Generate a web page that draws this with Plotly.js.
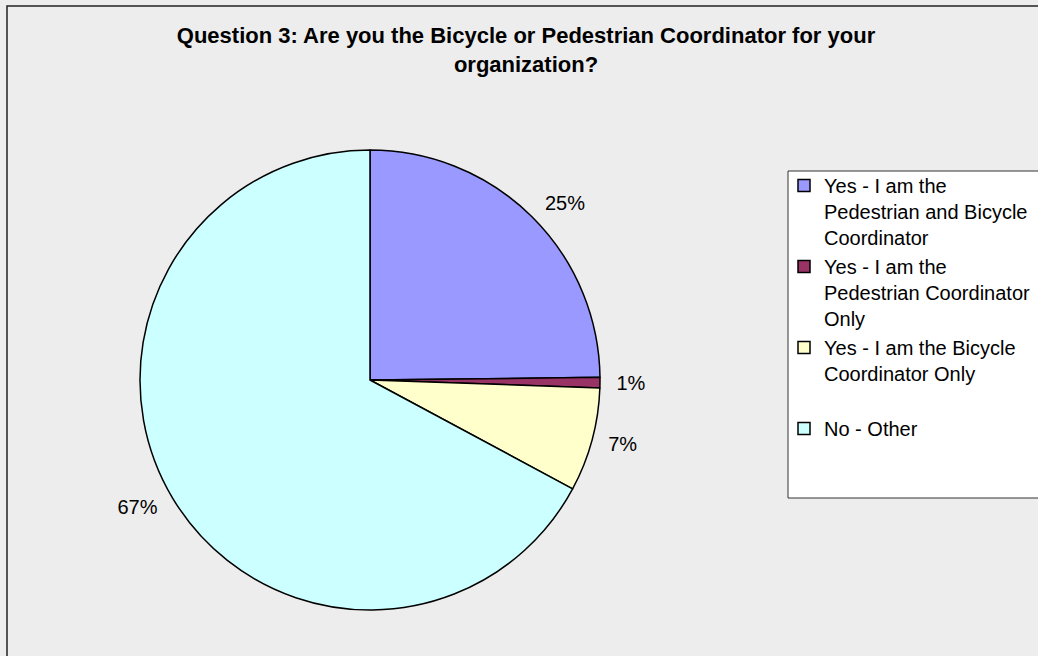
<!DOCTYPE html>
<html><head><meta charset="utf-8">
<script src="https://cdn.plot.ly/plotly-3.0.1.min.js"></script>
<style>html,body{margin:0;padding:0;background:#ededed;} #chart{width:1038px;height:656px;}</style>
</head><body><div id="chart"></div>
<script>
// Data
const categories = [
  "Yes - I am the<br>Pedestrian and Bicycle<br>Coordinator",
  "Yes - I am the<br>Pedestrian Coordinator<br>Only",
  "Yes - I am the Bicycle<br>Coordinator Only<br> ",
  "No - Other"
];
const counts = [34, 1, 10, 92];
const sliceColors = ["#9999FF", "#993366", "#FFFFCC", "#CCFFFF"];
const titleText = "Question 3: Are you the Bicycle or Pedestrian Coordinator for your<br>organization?";

const W = 1038, H = 656;
const FONT = "Liberation Sans, Arial, sans-serif";
const cx = 370, cy = 380, r = 230, rLabel = 241;

function dom(rad) {
  return { x: [(cx - rad) / W, (cx + rad) / W], y: [(H - cy - rad) / H, (H - cy + rad) / H] };
}

const pieTrace = {
  type: "pie",
  labels: categories,
  values: counts,
  sort: false,
  direction: "clockwise",
  rotation: 0,
  marker: { colors: sliceColors, line: { color: "#000000", width: 1.5 } },
  textinfo: "none",
  domain: dom(r),
  hoverinfo: "label+percent"
};

// same data, invisible wedges, only used to place the percentage labels a bit further out
const labelTrace = {
  type: "pie",
  labels: categories,
  values: counts,
  sort: false,
  direction: "clockwise",
  rotation: 0,
  marker: { colors: categories.map(() => "rgba(0,0,0,0)"), line: { width: 0 } },
  textposition: "outside",
  texttemplate: "%{percent:.0%}",
  textfont: { family: FONT, size: 20, color: "#000000" },
  domain: dom(rLabel),
  showlegend: false,
  hoverinfo: "skip"
};

const layout = {
  width: W, height: H,
  margin: { l: 0, r: 0, t: 0, b: 0, autoexpand: false },
  paper_bgcolor: "#ededed",
  plot_bgcolor: "#ededed",
  font: { family: FONT, color: "#000000" },
  title: {
    text: titleText,
    font: { family: FONT, size: 22, color: "#000000", weight: "bold" },
    x: 526 / W, xanchor: "center", xref: "container",
    y: 1 - 43 / H, yanchor: "top", yref: "container"
  },
  showlegend: true,
  legend: {
    x: 784 / W, xanchor: "left",
    y: 1 - 166 / H, yanchor: "top",
    bgcolor: "rgba(0,0,0,0)", borderwidth: 0,
    font: { family: FONT, size: 20, color: "#000000" },
    valign: "top", tracegroupgap: 0
  },
  shapes: [
    {
      type: "rect", xref: "paper", yref: "paper",
      x0: 7 / W, x1: 1.05, y0: -0.05, y1: 1 - 6 / H,
      line: { color: "#222222", width: 1.5 }, fillcolor: "rgba(0,0,0,0)", layer: "below"
    },
    {
      type: "rect", xref: "paper", yref: "paper",
      x0: 788 / W, x1: 1.05, y0: 1 - 498 / H, y1: 1 - 171 / H,
      line: { color: "#333333", width: 1 }, fillcolor: "#ffffff", layer: "below"
    }
  ]
};

Plotly.newPlot("chart", [pieTrace, labelTrace], layout, { displayModeBar: false, staticPlot: true });
</script>
</body></html>
